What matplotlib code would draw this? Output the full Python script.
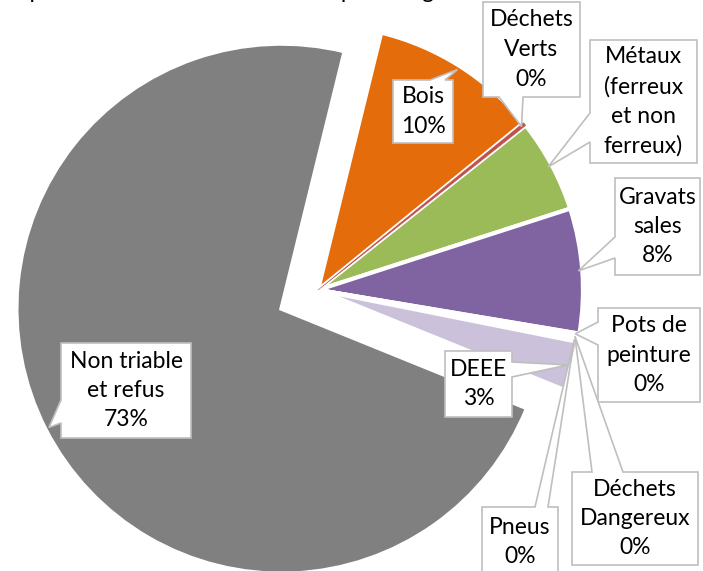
import numpy as np
import matplotlib.pyplot as plt
from matplotlib.patches import Polygon

plt.rcParams['font.family'] = ['Lato', 'DejaVu Sans']

categories = ['Bois', 'Déchets\nVerts', 'Métaux\n(ferreux\net non\nferreux)', 'Gravats\nsales',
              'Pots de\npeinture', 'Déchets\nDangereux', 'Pneus', 'DEEE', 'Non triable\net refus']
values = [10.3, 0.2, 5.7, 7.6, 0.1, 0.2, 0.2, 3.0, 72.7]
show_pct = [True, True, False, True, True, True, True, True, True]
colors = ['#E46C0A', '#C0504D', '#9BBB59', '#8064A2', '#4BACC6', '#F79646', '#2C4D75', '#CCC1DA', '#808080']
explode_frac = [0, 0, 0, 0, 0, 0, 0, 0, 0.155]

# label boxes in pixel coords (x0, y0, x1, y1), pointer side and base span
boxes = [
    ((393, 80, 453, 143), 'top', (430, 445)),
    ((483, 2, 580, 97), 'bottom', (499, 523)),
    ((590, 40, 697, 163), 'left', (113, 142)),
    ((615, 178, 700, 275), 'left', (237, 258)),
    ((598, 308, 700, 402), 'left', (322, 345)),
    ((572, 472, 698, 565), 'top', (592, 623)),
    ((482, 507, 558, 577), 'top', (535, 548)),
    ((445, 351, 512, 417), 'right', (362, 377)),
    ((61, 343, 191, 438), 'left', (400, 423)),
]

W, H = 703, 571
R = 265
fig = plt.figure(figsize=(W / 100, H / 100), dpi=100)
ax = fig.add_axes([0, 0, 1, 1])

wedges, _ = ax.pie(values, colors=colors, explode=[e * R for e in explode_frac],
                   startangle=76.2, counterclock=False, radius=R, center=(318, H - 290),
                   wedgeprops=dict(edgecolor='white', linewidth=3))
wedges[1].set_edgecolor('#C0504D')
wedges[1].set_linewidth(0.4)
wedges[1].set_zorder(3)

ax.set_xlim(0, W)
ax.set_ylim(0, H)
ax.set_aspect('equal')
ax.axis('off')


def callout(box, side, base, tip):
    x0, y0, x1, y1 = box
    a, b = base
    tx, ty = tip
    if side == 'top':
        pts = [(x0, y0), (a, y0), (tx, ty), (b, y0), (x1, y0), (x1, y1), (x0, y1)]
    elif side == 'bottom':
        pts = [(x0, y0), (x1, y0), (x1, y1), (b, y1), (tx, ty), (a, y1), (x0, y1)]
    elif side == 'left':
        pts = [(x0, y0), (x1, y0), (x1, y1), (x0, y1), (x0, b), (tx, ty), (x0, a)]
    else:
        pts = [(x0, y0), (x1, y0), (x1, a), (tx, ty), (x1, b), (x1, y1), (x0, y1)]
    return [(px, H - py) for px, py in pts]


for w, cat, val, pct, (box, side, base) in zip(wedges, categories, values, show_pct, boxes):
    ang = np.deg2rad((w.theta1 + w.theta2) / 2)
    cx, cy = w.center
    tip = (cx + 0.985 * w.r * np.cos(ang), H - (cy + 0.985 * w.r * np.sin(ang)))
    poly = Polygon(callout(box, side, base, tip), closed=True, facecolor='white',
                   edgecolor='#BFBFBF', linewidth=1.2, zorder=5)
    ax.add_patch(poly)
    label = cat + (f'\n{val:.0f}%' if pct else '')
    ax.text((box[0] + box[2]) / 2, H - (box[1] + box[3]) / 2, label, ha='center', va='center',
            fontsize=16.5, linespacing=1.5, color='black', zorder=6)

# chart title, cropped by the top edge as in the source image
ax.text(238, H + 2, 'Répartition des déchets collectés par catégorie', ha='center',
        va='baseline', fontsize=16.5, color='black')

plt.savefig('out.png', dpi=100)
